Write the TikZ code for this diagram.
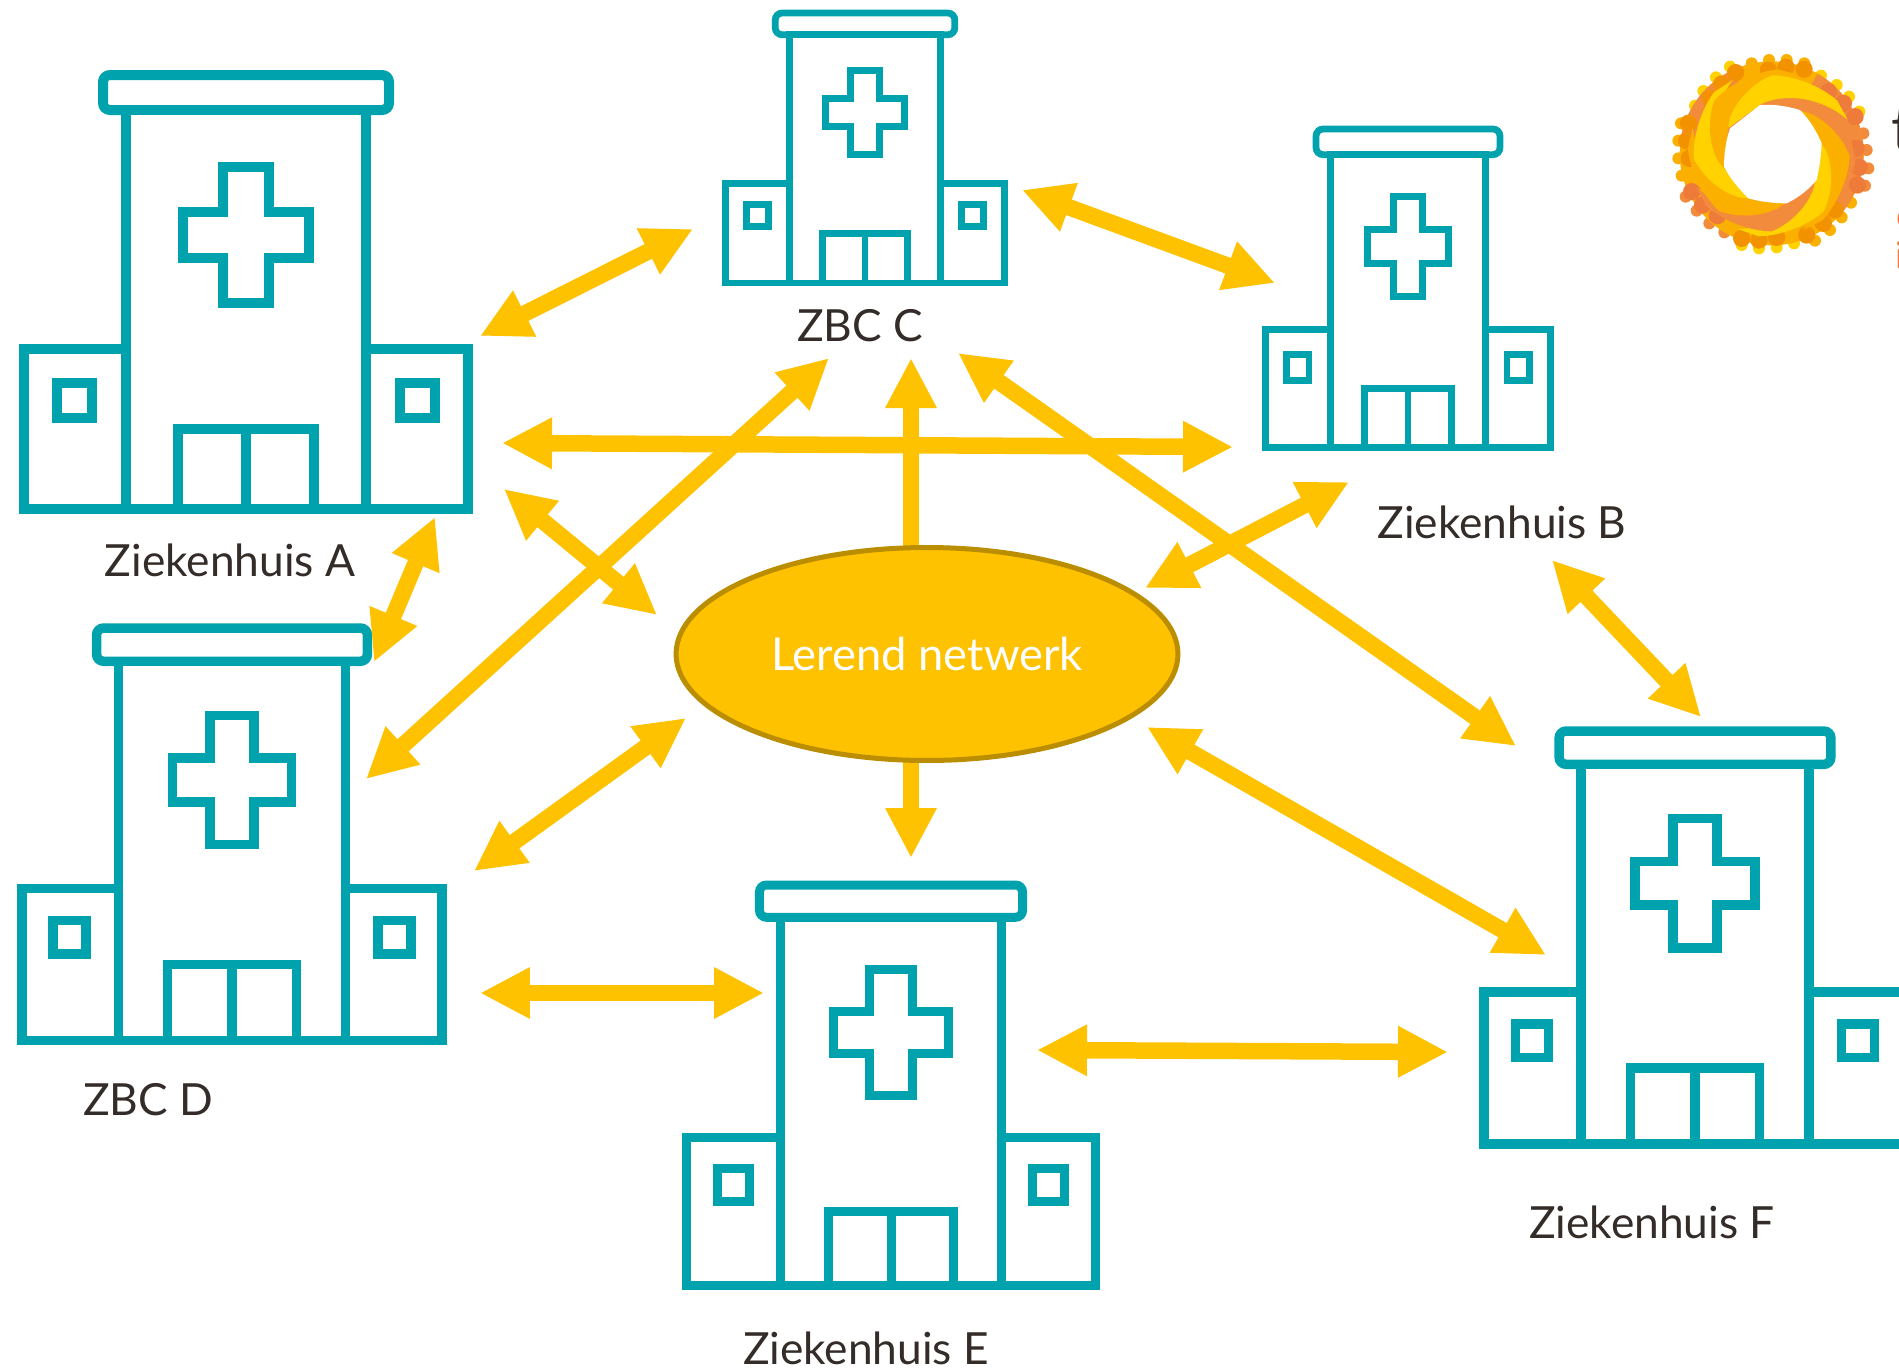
\documentclass[tikz,border=0pt]{standalone}
\usepackage{fontspec}
\setmainfont{Lato}
\usetikzlibrary{positioning, arrows.meta, shapes.geometric}

\definecolor{teal}{HTML}{00A3AD}
\definecolor{gold}{HTML}{FFC200}
\definecolor{goldrim}{HTML}{BA8E00}
\definecolor{ink}{HTML}{332C28}
\definecolor{sunyellow}{HTML}{FFD200}
\definecolor{sunamber}{HTML}{FBB000}
\definecolor{sundark}{HTML}{F39200}
\definecolor{sunorange}{HTML}{F28B3C}
\definecolor{sunred}{HTML}{EE7B3A}

\begin{document}
\begin{tikzpicture}[x=0.02cm, y=-0.02cm]

	\tikzstyle{label}=[text=ink, font=\fontsize{25.2}{25.2}\selectfont, inner sep=0pt]
	\tikzstyle{link}=[draw=gold, line width=0.33cm, {Triangle[length=1cm, width=0.96cm]}-{Triangle[length=1cm, width=0.96cm]}]
	\tikzstyle{oneway}=[draw=gold, line width=0.33cm, -{Triangle[length=1cm, width=0.96cm]}]
	\tikzstyle{netnode}=[ellipse, draw=goldrim, fill=gold, line width=0.1cm, minimum width=10.04cm, minimum height=4.26cm, inner sep=0pt, text=white, font=\fontsize{25.8}{25.8}\selectfont]

	\tikzset{hospital/.pic={
		\draw[rounded corners=0.14cm] (-143,0) rectangle (143,35);
		\draw (-120,35) -- (-120,434) (120,35) -- (120,434);
		\draw[miter limit=10] (-222,274) rectangle (222,434);
		\draw[fill=white] (-120,35) rectangle (120,434);
		\draw (-23,92) -- (23,92) -- (23,137) -- (63,137) -- (63,183) -- (23,183) -- (23,228) -- (-23,228) -- (-23,183) -- (-63,183) -- (-63,137) -- (-23,137) -- cycle;
		\draw (-189,308) rectangle (-154,343);
		\draw (154,308) rectangle (189,343);
		\draw (-68,434) -- (-68,354) -- (68,354) -- (68,434) (0,354) -- (0,434);
	}}

	\useasboundingbox (0,0) rectangle (1899,1370);

	% buildings
	\pic[draw=teal, line width=0.2cm] at (246,75) {hospital};
	\pic[draw=teal, line width=0.135cm, xscale=0.628, yscale=0.622] at (865,13) {hospital};
	\pic[draw=teal, line width=0.135cm, xscale=0.643, yscale=0.733] at (1408,129) {hospital};
	\pic[draw=teal, line width=0.19cm, xscale=0.947, yscale=0.95] at (232,628) {hospital};
	\pic[draw=teal, line width=0.18cm, xscale=0.92, yscale=0.922] at (891,885) {hospital};
	\pic[draw=teal, line width=0.19cm, xscale=0.95, yscale=0.952] at (1695,731) {hospital};

	\node[label] (labelA) at (230,560) {Ziekenhuis A};
	\node[label] (labelB) at (1502,522) {Ziekenhuis B};
	\node[label] (labelC) at (860,326) {ZBC C};
	\node[label] (labelD) at (148,1100) {ZBC D};
	\node[label] (labelE) at (866,1348) {Ziekenhuis E};
	\node[label] (labelF) at (1652,1222) {Ziekenhuis F};

	% arrow ends
	\coordinate (acA) at (480,336);
	\coordinate (acC) at (693,229);
	\coordinate (cbC) at (1022,190);
	\coordinate (cbB) at (1275,283);
	\coordinate (abA) at (502,443);
	\coordinate (abB) at (1233,447);
	\coordinate (dcD) at (366,779);
	\coordinate (dcC) at (829,358);
	\coordinate (cfC) at (958,353);
	\coordinate (cfF) at (1516,746);
	\coordinate (nbN) at (1145,588);
	\coordinate (nbB) at (1349,482);
	\coordinate (anA) at (504,489);
	\coordinate (anN) at (657,615);
	\coordinate (adA) at (435,517);
	\coordinate (adD) at (374,662);
	\coordinate (dnD) at (474,871);
	\coordinate (dnN) at (686,718);
	\coordinate (nfN) at (1147,727);
	\coordinate (nfF) at (1546,955);
	\coordinate (deD) at (480,993);
	\coordinate (deE) at (764,993);
	\coordinate (efE) at (1037,1050);
	\coordinate (efF) at (1448,1052);
	\coordinate (bfB) at (1552,560);
	\coordinate (bfF) at (1701,717);
	\coordinate (netTop) at (911,560);
	\coordinate (netC) at (911,358);
	\coordinate (netBottom) at (911,750);
	\coordinate (netE) at (911,858);

	\draw[link] (acA) -- (acC);
	\draw[link] (cbC) -- (cbB);
	\draw[link] (abA) -- (abB);
	\draw[link] (dcD) -- (dcC);
	\draw[link] (cfC) -- (cfF);
	\draw[link] (nbN) -- (nbB);
	\draw[link] (anA) -- (anN);
	\draw[link] (adA) -- (adD);
	\draw[link] (dnD) -- (dnN);
	\draw[link] (nfN) -- (nfF);
	\draw[link] (deD) -- (deE);
	\draw[link] (efE) -- (efF);
	\draw[link] (bfB) -- (bfF);
	\draw[oneway] (netTop) -- (netC);
	\draw[oneway] (netBottom) -- (netE);

	\node[netnode] (netwerk) at (927,654) {Lerend netwerk};

	% logo
	\begin{scope}[shift={(1620,30)}, x=0.00667cm, y=-0.00667cm]
		\foreach \px/\py/\col in {447/90/sunamber, 500/90/sunamber, 553/100/sunamber, 603/137/sunyellow, 650/165/sunyellow, 687/200/sunyellow, 718/245/sunyellow, 730/310/sunorange, 740/360/sunorange, 745/415/sunorange, 735/467/sunorange, 693/518/sunamber, 665/562/sunamber, 630/600/sunamber, 585/632/sunamber, 522/640/sunyellow, 470/652/sunyellow, 417/655/sunyellow, 365/645/sunyellow, 313/607/sunorange, 268/580/sunorange, 230/542/sunorange, 197/500/sunorange, 185/437/sunamber, 175/385/sunamber, 175/332/sunamber, 183/280/sunamber, 225/227/sunyellow, 250/183/sunyellow, 288/142/sunyellow, 330/110/sunyellow, 395/100/sunamber}
			\fill[\col] (\px,\py) circle (18);
		\fill[sunamber] (455,370) circle (276);
		\fill[sunorange] (455,370) ++(-60:276) arc (-60:40:276) -- (455,370) -- cycle;
		\fill[sunorange] (455,370) ++(190:276) arc (190:245:276) -- (455,370) -- cycle;
		\foreach \px/\py/\col in {445/120/sundark, 498/112/sundark, 552/118/sundark, 625/185/sunred, 670/220/sunred, 705/260/sunred, 708/355/sunred, 718/412/sunred, 712/465/sunred, 645/540/sundark, 610/580/sundark, 560/615/sundark, 470/622/sundark, 417/630/sundark, 365/625/sundark, 292/557/sunred, 248/525/sunred, 215/485/sunred, 208/385/sundark, 200/332/sundark, 205/280/sundark, 272/205/sundark, 305/162/sundark, 347/128/sundark}
			\fill[\col] (\px,\py) circle (26);
		\begin{scope}[shift={(455,370)}, x=0.02cm, y=0.02cm]
			\foreach \ang/\col in {196/sunamber, 149/sunyellow, 104/sunorange, 57/sunamber, 11/sunyellow, -31/sunorange, -73/sunamber, -117/sunyellow, 196/sunamber, 149/sunyellow}
				\fill[\col, rotate=\ang] (0:50) .. controls (-8:58) and (-35:72) .. (-59:78) .. controls (-75:81) and (-95:83) .. (-110:84) -- (-125:83) .. controls (-100:75) and (-70:62) .. (-45:50) -- cycle;
		\end{scope}
		\fill[white] (330,295) -- (420,225) .. controls (460,222) and (500,228) .. (540,240) .. controls (570,270) and (590,305) .. (605,340) .. controls (603,380) and (598,415) .. (590,450) .. controls (565,480) and (535,503) .. (500,520) .. controls (460,520) and (420,515) .. (385,505) .. controls (355,475) and (330,445) .. (312,410) .. controls (312,370) and (318,330) .. (330,295) -- cycle;
	\end{scope}

	% cut off at the right edge
	\node[text=ink, font=\fontsize{36}{36}\selectfont, anchor=base west, inner sep=0pt] (logoT) at (1891,151) {t};
	\node[text=sunred, font=\fontsize{21}{21}\selectfont, anchor=base west, inner sep=0pt] (logoC) at (1896,228) {c};
	\node[text=sunred, font=\fontsize{21}{21}\selectfont, anchor=base west, inner sep=0pt] (logoI) at (1895,268) {i};

\end{tikzpicture}
\end{document}
